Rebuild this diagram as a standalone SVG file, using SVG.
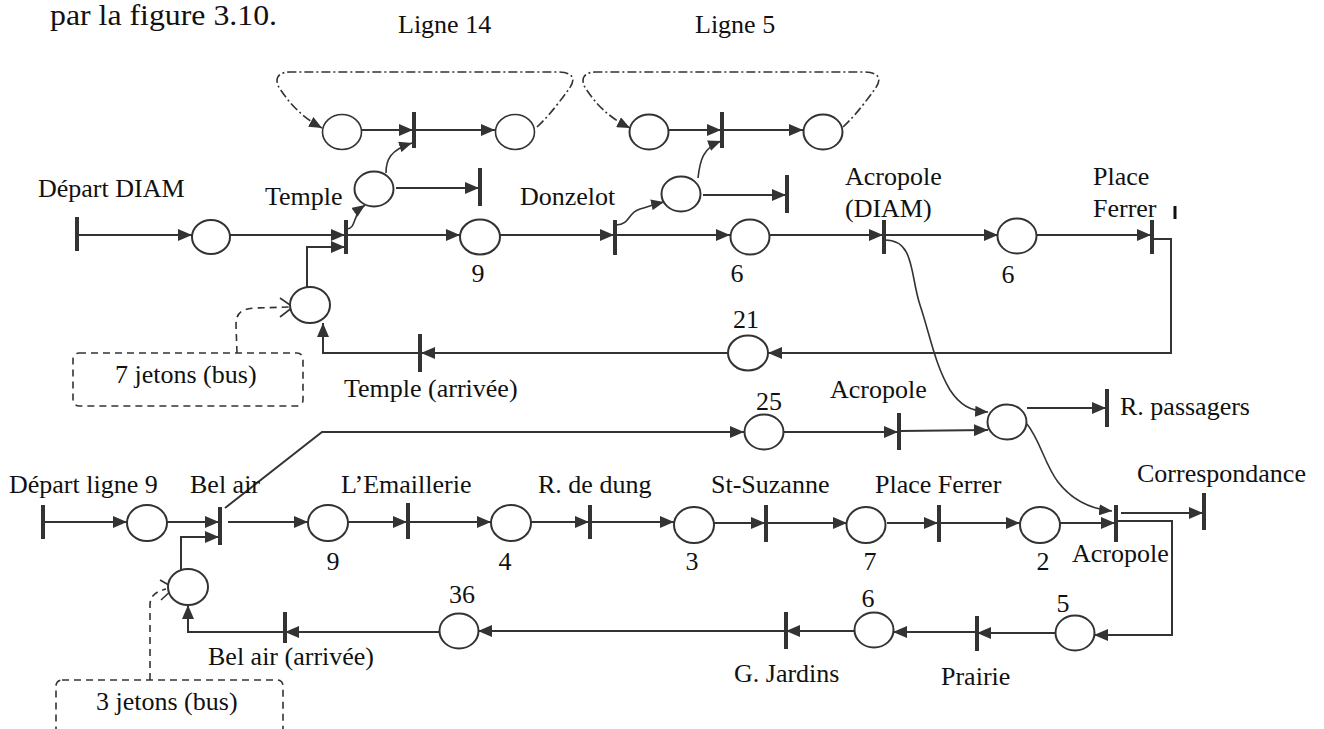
<svg xmlns="http://www.w3.org/2000/svg" width="1324" height="729" viewBox="0 0 1324 729">
<style>
  text { font-family: "Liberation Serif", "Times New Roman", serif; font-size: 26px; fill: #111; }
  .c { text-anchor: middle; }
  .place { fill: #fff; stroke: #333; stroke-width: 2; }
  .bar { stroke: #333; stroke-width: 4; fill: none; }
  .arc { stroke: #333; stroke-width: 2; fill: none; marker-end: url(#ah); }
  .arcs { stroke: #333; stroke-width: 1.6; fill: none; marker-end: url(#ahs); }
  .plain { stroke: #333; stroke-width: 2; fill: none; }
  .loop { stroke: #333; stroke-width: 1.6; fill: none; stroke-dasharray: 9 3 2 3; marker-end: url(#ahs); }
  .dash { stroke: #333; stroke-width: 1.6; fill: none; stroke-dasharray: 7 5; }
  .chev { stroke: #333; stroke-width: 1.6; fill: none; }
</style>
<defs>
  <marker id="ah" viewBox="0 0 14 12" refX="14" refY="6" markerWidth="14" markerHeight="12" markerUnits="userSpaceOnUse" orient="auto">
    <path d="M0,0 L14,6 L0,12 z" fill="#333"/>
  </marker>
  <marker id="ahs" viewBox="0 0 14 12" refX="14" refY="6" markerWidth="13" markerHeight="11" markerUnits="userSpaceOnUse" orient="auto">
    <path d="M0,0 L14,6 L0,12 z" fill="#333"/>
  </marker>
</defs>
<rect x="0" y="0" width="1324" height="729" fill="#fff"/>

<text x="50" y="25" style="font-size:29px" textLength="227" lengthAdjust="spacingAndGlyphs">par la figure 3.10.</text>
<text x="398" y="33">Ligne 14</text>
<text x="695" y="33">Ligne 5</text>

<g id="connectors">
  <!-- loops -->
  <path class="loop" d="M537,127 C550,115 560,101 569,89 C577,78 572,72 558,72 L290,72 C277,72 274,80 280,89 C290,104 302,117 322,128"/>
  <path class="loop" d="M843,127 C856,115 866,101 875,89 C883,78 878,72 864,72 L596,72 C583,72 580,80 586,89 C596,104 608,117 630,128"/>
  <!-- Ligne 14 / Ligne 5 internal -->
  <line class="arc" x1="362" y1="130" x2="413" y2="130"/>
  <line class="arc" x1="415" y1="130" x2="495" y2="130"/>
  <line class="arc" x1="668" y1="130" x2="721" y2="130"/>
  <line class="arc" x1="723" y1="130" x2="803" y2="130"/>
  <!-- top line -->
  <line class="arc" x1="79" y1="235" x2="192" y2="235"/>
  <line class="arc" x1="230" y1="235" x2="345" y2="235"/>
  <line class="arc" x1="347" y1="235" x2="460" y2="235"/>
  <line class="arc" x1="500" y1="235" x2="614" y2="235"/>
  <line class="arc" x1="616" y1="235" x2="730" y2="235"/>
  <line class="arc" x1="770" y1="235" x2="883" y2="235"/>
  <line class="arc" x1="885" y1="235" x2="998" y2="235"/>
  <line class="arc" x1="1037" y1="235" x2="1151" y2="235"/>
  <!-- branches -->
  <path class="arcs" d="M347,229 C357,228 352,214 365,205"/>
  <path class="arcs" d="M386,173 C386,160 390,150 412,143"/>
  <line class="arc" x1="396" y1="188" x2="479" y2="188"/>
  <path class="arcs" d="M616,225 C631,224 627,213 640,209 C650,206 655,204 664,202"/>
  <path class="arcs" d="M698,178 C700,160 703,148 721,141"/>
  <line class="arc" x1="703" y1="195" x2="786" y2="195"/>
  <!-- return DIAM -->
  <polyline class="arc" points="1153,239 1171,239 1171,353 768,353"/>
  <line class="arc" x1="728" y1="353" x2="421" y2="353"/>
  <polyline class="arc" points="419,353 323,353 323,323"/>
  <polyline class="arc" points="307,287 307,247 345,247"/>
  <!-- DIAM to passagers -->
  <path class="arcs" d="M885,240 C915,240 910,275 920,305 C930,335 935,365 950,390 C960,405 970,411 988,412"/>
  <path class="arcs" d="M1027,424 C1040,440 1045,465 1058,482 C1072,500 1090,509 1112,511"/>
  <line class="arc" x1="1027" y1="408" x2="1106" y2="408"/>
  <!-- 25 -->
  <polyline class="arc" points="225,508 322,432 744,432"/>
  <line class="arc" x1="784" y1="432" x2="898" y2="432"/>
  <line class="arc" x1="900" y1="431" x2="988" y2="430"/>
  <!-- bottom row -->
  <line class="arc" x1="45" y1="522" x2="127" y2="522"/>
  <line class="arc" x1="167" y1="522" x2="219" y2="522"/>
  <line class="arc" x1="228" y1="522" x2="308" y2="522"/>
  <line class="arc" x1="348" y1="522" x2="407" y2="522"/>
  <line class="arc" x1="409" y1="522" x2="491" y2="522"/>
  <line class="arc" x1="531" y1="522" x2="589" y2="522"/>
  <line class="arc" x1="591" y1="522" x2="674" y2="522"/>
  <line class="arc" x1="714" y1="523" x2="765" y2="523"/>
  <line class="arc" x1="767" y1="523" x2="847" y2="523"/>
  <line class="arc" x1="887" y1="523" x2="938" y2="523"/>
  <line class="arc" x1="940" y1="523" x2="1020" y2="523"/>
  <line class="arc" x1="1060" y1="523" x2="1115" y2="523"/>
  <line class="arc" x1="1121" y1="513" x2="1203" y2="513"/>
  <polyline class="arc" points="1118,521 1172,521 1172,635 1094,635"/>
  <line class="arc" x1="1055" y1="633" x2="977" y2="633"/>
  <line class="arc" x1="975" y1="632" x2="893" y2="632"/>
  <line class="arc" x1="855" y1="631" x2="786" y2="631"/>
  <line class="arc" x1="784" y1="631" x2="478" y2="631"/>
  <line class="arc" x1="440" y1="632" x2="285" y2="632"/>
  <polyline class="arc" points="283,632 188,632 188,605"/>
  <polyline class="arc" points="181,570 181,537 219,537"/>
  <!-- token annotations -->
  <path class="dash" d="M237,353 L236,325 C236,312 242,309 255,308 L290,307"/>
  <polyline class="chev" points="280,298 293,307 280,317"/>
  <path class="dash" d="M150,680 L150,605 C150,596 155,592 166,589"/>
  <polyline class="chev" points="160,580 174,588 161,600"/>
</g>

<g id="ligne14">
  <ellipse class="place" cx="342" cy="132" rx="19.5" ry="17.5" style="stroke-width:1.6"/>
  <line class="bar" x1="414" y1="112" x2="414" y2="148"/>
  <ellipse class="place" cx="515" cy="132" rx="19.5" ry="17.5" style="stroke-width:1.6"/>
</g>
<g id="ligne5">
  <ellipse class="place" cx="649" cy="132" rx="19.5" ry="17.5"/>
  <line class="bar" x1="722" y1="112" x2="722" y2="148"/>
  <ellipse class="place" cx="823" cy="132" rx="19.5" ry="17.5"/>
</g>

<g id="depart-diam">
  <text x="38" y="197">Départ DIAM</text>
  <line class="bar" x1="77" y1="217" x2="77" y2="251"/>
</g>
<g id="p-diam1"><ellipse class="place" cx="211" cy="237" rx="19" ry="17"/></g>
<g id="temple">
  <text x="265" y="205">Temple</text>
  <line class="bar" x1="346" y1="220" x2="346" y2="254"/>
</g>
<g id="p-temple-branch">
  <ellipse class="place" cx="374" cy="189" rx="19.5" ry="17.5"/>
  <line class="bar" x1="480" y1="168" x2="480" y2="206"/>
</g>
<g id="p9a">
  <ellipse class="place" cx="480" cy="237" rx="20" ry="17.5"/>
  <text class="c" x="478" y="282">9</text>
</g>
<g id="donzelot">
  <text x="520" y="205">Donzelot</text>
  <line class="bar" x1="615" y1="220" x2="615" y2="255"/>
</g>
<g id="p-donzelot-branch">
  <ellipse class="place" cx="681" cy="194" rx="19.5" ry="17.5"/>
  <line class="bar" x1="787" y1="175" x2="787" y2="213"/>
</g>
<g id="p6a">
  <ellipse class="place" cx="750" cy="237" rx="19.5" ry="17.5"/>
  <text class="c" x="737" y="282">6</text>
</g>
<g id="acropole-diam">
  <text x="845" y="185">Acropole</text>
  <text x="845" y="217">(DIAM)</text>
  <line class="bar" x1="884" y1="220" x2="884" y2="254"/>
</g>
<g id="p6b">
  <ellipse class="place" cx="1017" cy="236" rx="19.5" ry="17.5"/>
  <text class="c" x="1008" y="283">6</text>
</g>
<g id="place-ferrer-diam">
  <text x="1093" y="185">Place</text>
  <text x="1093" y="217">Ferrer</text>
  <line class="bar" x1="1152" y1="220" x2="1152" y2="254"/>
  <line x1="1175" y1="206" x2="1175" y2="219" stroke="#111" stroke-width="3"/>
</g>
<g id="p21">
  <ellipse class="place" cx="748" cy="353" rx="20" ry="17.5"/>
  <text class="c" x="746" y="328">21</text>
</g>
<g id="temple-arrivee">
  <line class="bar" x1="420" y1="334" x2="420" y2="372"/>
  <text x="344" y="397">Temple (arrivée)</text>
</g>
<g id="p-bus-diam">
  <ellipse class="place" cx="310" cy="305" rx="20" ry="18"/>
</g>
<g id="jetons7">
  <rect class="dash" x="73" y="353" width="230" height="53" rx="6"/>
  <text x="115" y="383">7 jetons (bus)</text>
</g>

<g id="p25">
  <ellipse class="place" cx="764" cy="432" rx="19.5" ry="17.5"/>
  <text class="c" x="769" y="410">25</text>
</g>
<g id="acropole-l9">
  <text x="830" y="398">Acropole</text>
  <line class="bar" x1="899" y1="413" x2="899" y2="450"/>
</g>
<g id="p-passagers">
  <ellipse class="place" cx="1007" cy="422" rx="19.5" ry="17.5"/>
  <line class="bar" x1="1107" y1="389" x2="1107" y2="427"/>
  <text x="1120" y="415">R. passagers</text>
</g>

<g id="depart-l9">
  <text x="9" y="493">Départ ligne 9</text>
  <line class="bar" x1="43" y1="505" x2="43" y2="539"/>
</g>
<g id="p-l9-1"><ellipse class="place" cx="147" cy="523" rx="20" ry="18"/></g>
<g id="bel-air">
  <text x="190" y="493">Bel air</text>
  <line class="bar" x1="220" y1="507" x2="220" y2="545"/>
</g>
<g id="p9b">
  <ellipse class="place" cx="328" cy="523" rx="20" ry="18"/>
  <text class="c" x="333" y="570">9</text>
</g>
<g id="emaillerie">
  <text x="341" y="493">L’Emaillerie</text>
  <line class="bar" x1="408" y1="503" x2="408" y2="539"/>
</g>
<g id="p4">
  <ellipse class="place" cx="511" cy="523" rx="20" ry="18"/>
  <text class="c" x="505" y="570">4</text>
</g>
<g id="r-de-dung">
  <text x="538" y="493">R. de dung</text>
  <line class="bar" x1="590" y1="505" x2="590" y2="539"/>
</g>
<g id="p3">
  <ellipse class="place" cx="694" cy="525" rx="20" ry="18"/>
  <text class="c" x="692" y="570">3</text>
</g>
<g id="st-suzanne">
  <text x="711" y="493">St-Suzanne</text>
  <line class="bar" x1="766" y1="505" x2="766" y2="542"/>
</g>
<g id="p7">
  <ellipse class="place" cx="866" cy="525" rx="19.5" ry="18"/>
  <text class="c" x="870" y="570">7</text>
</g>
<g id="place-ferrer-l9">
  <text x="875" y="493">Place Ferrer</text>
  <line class="bar" x1="939" y1="505" x2="939" y2="542"/>
</g>
<g id="p2">
  <ellipse class="place" cx="1040" cy="525" rx="20" ry="18"/>
  <text class="c" x="1043" y="570">2</text>
</g>
<g id="acropole-l9-end">
  <line class="bar" x1="1116" y1="505" x2="1116" y2="542"/>
  <text x="1072" y="562">Acropole</text>
</g>
<g id="correspondance">
  <text x="1137" y="482">Correspondance</text>
  <line class="bar" x1="1204" y1="493" x2="1204" y2="530"/>
</g>
<g id="p5">
  <ellipse class="place" cx="1075" cy="633" rx="19.5" ry="17.5"/>
  <text class="c" x="1063" y="612">5</text>
</g>
<g id="prairie">
  <line class="bar" x1="977" y1="616" x2="977" y2="651"/>
  <text x="941" y="685">Prairie</text>
</g>
<g id="p6c">
  <ellipse class="place" cx="874" cy="630" rx="19.5" ry="17.5"/>
  <text class="c" x="868" y="607">6</text>
</g>
<g id="g-jardins">
  <line class="bar" x1="786" y1="612" x2="786" y2="649"/>
  <text x="734" y="682">G. Jardins</text>
</g>
<g id="p36">
  <ellipse class="place" cx="459" cy="631" rx="19.5" ry="17.5"/>
  <text class="c" x="462" y="603">36</text>
</g>
<g id="bel-air-arrivee">
  <line class="bar" x1="285" y1="612" x2="285" y2="643"/>
  <text x="208" y="665">Bel air (arrivée)</text>
</g>
<g id="p-bus-l9">
  <ellipse class="place" cx="188" cy="587" rx="20" ry="18"/>
</g>
<g id="jetons3">
  <rect class="dash" x="56" y="680" width="227" height="65" rx="6"/>
  <text x="96" y="710">3 jetons (bus)</text>
</g>
</svg>
